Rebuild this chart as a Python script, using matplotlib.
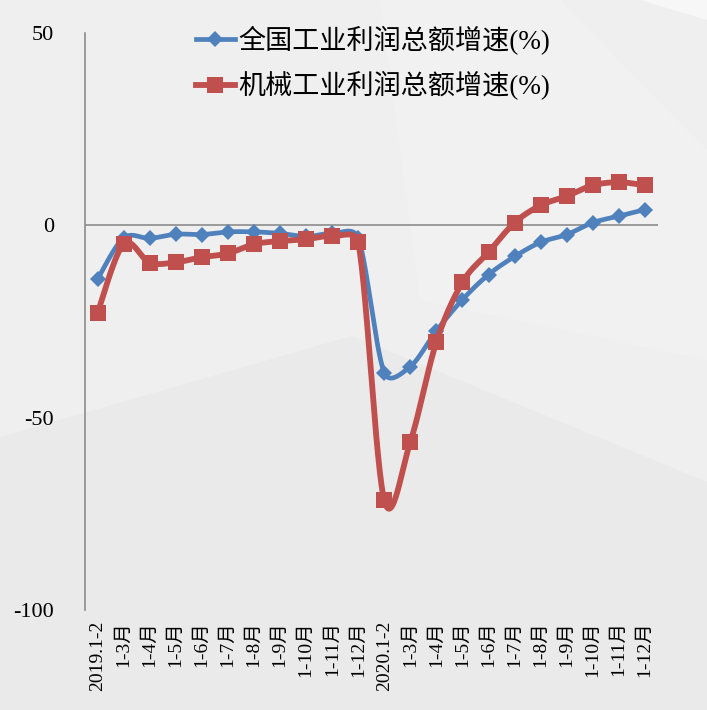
import numpy as np
import matplotlib
matplotlib.use('Agg')
import matplotlib.pyplot as plt
from matplotlib.patches import Polygon

# 数据
categories = ['2019.1-2', '1-3月', '1-4月', '1-5月', '1-6月', '1-7月', '1-8月', '1-9月',
              '1-10月', '1-11月', '1-12月', '2020.1-2', '1-3月', '1-4月', '1-5月', '1-6月',
              '1-7月', '1-8月', '1-9月', '1-10月', '1-11月', '1-12月']
national = [-14.0, -3.3, -3.4, -2.3, -2.4, -1.7, -1.7, -2.1, -2.9, -2.1, -3.3,
            -38.3, -36.7, -27.4, -19.3, -12.8, -8.1, -4.4, -2.4, 0.7, 2.4, 4.1]
machinery = [-22.8, -4.9, -9.7, -9.6, -8.3, -7.3, -4.9, -4.1, -3.6, -2.8, -4.4,
             -71.5, -56.3, -30.3, -14.8, -7.0, 0.7, 5.2, 7.6, 10.4, 11.2, 10.4]
y_ticks = [50, 0, -50, -100]

plt.rcParams['font.family'] = ['Liberation Serif', 'Noto Sans CJK SC']


def clamp(v, seg_len, f=0.5):
    n = np.linalg.norm(v)
    lim = f * seg_len
    return v * (lim / n) if n > lim and n > 0 else v


# Excel 式的平滑曲线 (贝塞尔), 在像素比例下计算控制点
def smooth(y, sx=26.1, sy=3.86, n=30):
    pts = np.column_stack([np.arange(len(y)) * sx, np.asarray(y, float) * sy])
    m = len(pts)
    out = []
    for i in range(m - 1):
        p0 = pts[i - 1] if i > 0 else pts[i]
        p1, p2 = pts[i], pts[i + 1]
        p3 = pts[i + 2] if i + 2 < m else pts[i + 1]
        seg_len = np.linalg.norm(p2 - p1)
        c1 = p1 + clamp((p2 - p0) / 6, seg_len)
        c2 = p2 - clamp((p3 - p1) / 6, seg_len)
        t = np.linspace(0, 1, n)[:, None]
        seg = (1 - t) ** 3 * p1 + 3 * (1 - t) ** 2 * t * c1 + 3 * (1 - t) * t ** 2 * c2 + t ** 3 * p2
        out.append(seg if i == 0 else seg[1:])
    res = np.vstack(out)
    return res[:, 0] / sx, res[:, 1] / sy


fig = plt.figure(figsize=(7.07, 7.10), dpi=100)
fig.patch.set_facecolor('#efefef')

W, H = 707.0, 710.0
def fp(pts):
    return [(x / W, 1 - y / H) for x, y in pts]

# 背景装饰
fig.patches.append(Polygon(fp([(0, 437), (352, 336), (707, 482), (707, 710), (0, 710)]),
                           closed=True, transform=fig.transFigure, facecolor='#eaeaeb',
                           edgecolor='none', zorder=-10))
fig.patches.append(Polygon(fp([(380, 0), (560, 0), (707, 150), (707, 360), (420, 300)]),
                           closed=True, transform=fig.transFigure, facecolor='#f1f1f1',
                           edgecolor='none', zorder=-9))
fig.patches.append(Polygon(fp([(640, 0), (707, 0), (707, 20)]),
                           closed=True, transform=fig.transFigure, facecolor='#f7f7f7',
                           edgecolor='none', zorder=-9))

ax = fig.add_axes([84.5 / W, 1 - 610 / H, (658 - 84.5) / W, (610 - 33) / H])
ax.set_facecolor('none')

x = np.arange(len(categories))
blue = '#4f81bd'
red = '#c0504d'

bx, by = smooth(national)
rx, ry = smooth(machinery)
ax.plot(bx, by, color=blue, lw=3.4, solid_capstyle='round', zorder=3)
ax.plot(x, national, ls='none', marker='D', ms=7.8, color=blue, mew=0, zorder=4)
ax.plot(rx, ry, color=red, lw=4.2, solid_capstyle='round', zorder=5)
ax.plot(x, machinery, ls='none', marker='s', ms=12, color=red, mew=0, zorder=6)

# 图例句柄
h1, = ax.plot([], [], color=blue, lw=3.4, marker='D', ms=7.8, mew=0)
h2, = ax.plot([], [], color=red, lw=4.2, marker='s', ms=12, mew=0)

ax.axhline(0, color='#8c8c8c', lw=1.2, zorder=2)
ax.set_xlim(-0.5, len(categories) - 0.5)
ax.set_ylim(-100, 50)
ax.set_yticks(y_ticks)
ax.set_yticklabels([str(v) for v in y_ticks], fontsize=16)
ax.set_xticks(x)
ax.set_xticklabels(categories, rotation=90, fontsize=14, va='top')
ax.tick_params(axis='y', length=0, pad=22)
ax.tick_params(axis='x', length=0, pad=8)

for s in ['top', 'right', 'bottom']:
    ax.spines[s].set_visible(False)
ax.spines['left'].set_color('#8c8c8c')
ax.spines['left'].set_linewidth(1.2)

ax.legend([h1, h2], ['全国工业利润总额增速(%)', '机械工业利润总额增速(%)'],
          loc='upper center', bbox_to_anchor=(373 / W, 0.998), bbox_transform=fig.transFigure,
          frameon=False, fontsize=19.5, handlelength=1.45, handletextpad=0.12, labelspacing=0.6)

fig.savefig('out.png', dpi=100, facecolor=fig.get_facecolor())
